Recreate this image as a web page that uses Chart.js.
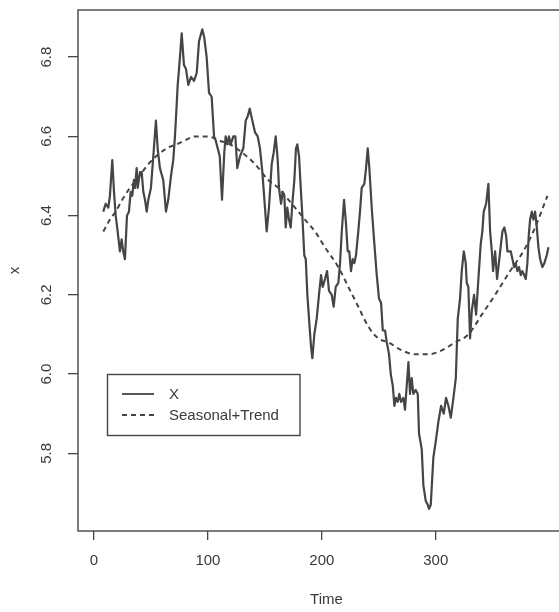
<!DOCTYPE html>
<html>
<head>
<meta charset="utf-8">
<script src="https://cdn.jsdelivr.net/npm/chart.js@4.4.0/dist/chart.umd.min.js"></script>
<style>
  html, body { margin: 0; padding: 0; background: #fff; overflow: hidden; }
  #wrap { width: 575px; height: 612px; }
</style>
</head>
<body>
<div id="wrap"><canvas id="mychart" width="575" height="612"></canvas></div>
<script>
// --- data ---
const xTime = [8.2, 10.3, 12.6, 14.0, 16.1, 17.6, 19.1, 20.8, 22.8, 24.3, 25.7, 27.2, 29.0, 30.7, 32.2, 33.6, 35.1, 36.0, 37.5, 38.4,
  40.4, 41.9, 43.3, 44.8, 46.3, 47.7, 50.0, 52.1, 54.4, 55.9, 57.9, 60.8, 63.2, 65.2, 67.6, 69.6, 71.1, 72.6, 73.5, 75.5,
  77.0, 79.0, 80.8, 82.8, 85.2, 87.8, 90.2, 92.2, 95.1, 96.8, 98.9, 101.0, 103.3, 105.4, 106.8, 108.6, 110.4, 112.4, 114.4, 115.6,
  117.0, 118.5, 120.0, 122.3, 124.1, 125.8, 128.2, 131.1, 133.2, 134.9, 136.7, 139.0, 141.4, 143.7, 145.7, 147.8, 150.1, 151.6, 153.6, 156.0,
  157.8, 159.5, 161.3, 162.4, 164.2, 165.7, 167.1, 168.3, 169.7, 171.2, 172.7, 174.1, 175.9, 177.3, 178.5, 180.0, 181.5, 182.9, 184.6, 185.9,
  187.3, 189.0, 190.5, 191.7, 193.4, 195.5, 197.5, 199.3, 200.8, 202.8, 204.6, 206.3, 208.7, 210.4, 212.2, 214.5, 216.0, 217.5, 219.5, 221.2,
  222.7, 224.1, 225.6, 227.1, 228.5, 230.0, 232.0, 233.5, 235.0, 237.3, 238.8, 240.3, 241.7, 243.8, 245.8, 248.2, 250.2, 252.0, 253.5, 255.5,
  257.0, 259.0, 260.5, 262.3, 263.7, 265.1, 266.6, 268.0, 269.5, 271.6, 273.0, 274.5, 276.0, 277.4, 278.9, 280.3, 282.4, 284.2, 285.3, 287.7,
  289.1, 291.2, 293.0, 294.1, 295.6, 297.9, 300.0, 302.3, 304.7, 307.0, 309.0, 311.1, 313.2, 315.5, 317.6, 319.3, 321.3, 322.8, 324.6, 326.3,
  327.2, 328.6, 330.1, 331.6, 333.6, 335.4, 337.4, 339.5, 340.9, 342.1, 344.2, 346.2, 347.7, 349.2, 350.3, 352.1, 353.8, 355.0, 356.5, 358.5,
  360.2, 361.7, 362.9, 364.4, 365.8, 367.3, 368.7, 370.2, 371.6, 373.1, 374.6, 376.0, 377.5, 379.0, 380.4, 381.6, 382.8, 384.3, 385.7, 387.2,
  388.7, 390.1, 391.6, 393.6, 395.3, 397.4, 398.9];
const xValues = [6.41, 6.43, 6.42, 6.45, 6.54, 6.46, 6.40, 6.36, 6.31, 6.34, 6.31, 6.29, 6.40, 6.41, 6.46, 6.45, 6.49, 6.47, 6.52, 6.47,
  6.51, 6.51, 6.46, 6.44, 6.41, 6.44, 6.47, 6.55, 6.64, 6.57, 6.52, 6.49, 6.41, 6.44, 6.50, 6.54, 6.60, 6.68, 6.73, 6.80,
  6.86, 6.78, 6.77, 6.73, 6.75, 6.74, 6.76, 6.84, 6.87, 6.85, 6.80, 6.71, 6.70, 6.60, 6.59, 6.57, 6.55, 6.44, 6.56, 6.60,
  6.58, 6.60, 6.58, 6.60, 6.60, 6.52, 6.55, 6.57, 6.64, 6.65, 6.67, 6.64, 6.61, 6.60, 6.57, 6.51, 6.42, 6.36, 6.42, 6.53,
  6.56, 6.60, 6.54, 6.47, 6.43, 6.46, 6.45, 6.37, 6.42, 6.39, 6.37, 6.43, 6.49, 6.57, 6.58, 6.55, 6.47, 6.40, 6.30, 6.29,
  6.20, 6.13, 6.07, 6.04, 6.10, 6.14, 6.20, 6.25, 6.22, 6.24, 6.26, 6.21, 6.20, 6.17, 6.22, 6.23, 6.28, 6.36, 6.44, 6.38,
  6.31, 6.31, 6.26, 6.29, 6.28, 6.30, 6.36, 6.41, 6.47, 6.48, 6.52, 6.57, 6.52, 6.42, 6.34, 6.25, 6.19, 6.18, 6.11, 6.11,
  6.08, 6.05, 6.00, 5.97, 5.92, 5.94, 5.93, 5.95, 5.93, 5.94, 5.91, 5.97, 6.03, 5.95, 5.99, 5.95, 5.96, 5.95, 5.85, 5.81,
  5.72, 5.68, 5.67, 5.66, 5.67, 5.79, 5.83, 5.88, 5.92, 5.90, 5.94, 5.92, 5.89, 5.94, 5.99, 6.14, 6.19, 6.26, 6.31, 6.28,
  6.23, 6.22, 6.09, 6.16, 6.20, 6.15, 6.24, 6.33, 6.36, 6.41, 6.43, 6.48, 6.36, 6.31, 6.26, 6.31, 6.24, 6.27, 6.31, 6.36,
  6.37, 6.35, 6.31, 6.31, 6.31, 6.29, 6.27, 6.28, 6.26, 6.27, 6.25, 6.26, 6.25, 6.24, 6.28, 6.35, 6.39, 6.41, 6.39, 6.41,
  6.37, 6.32, 6.29, 6.27, 6.28, 6.30, 6.32];

const trendTime = [8.2, 14.0, 19.1, 24.8, 31.6, 40.0, 47.7, 63.8, 72.6, 79.9, 88.7, 100.4, 109.1, 119.4, 129.7, 141.4, 153.0, 161.8, 173.6, 185.2,
  194.0, 202.8, 214.5, 223.3, 232.0, 240.8, 249.6, 258.4, 270.1, 281.8, 293.5, 305.3, 316.9, 328.6, 340.4, 352.1, 365.2, 376.9, 385.7, 398.0];
const trendValues = [6.36, 6.39, 6.41, 6.44, 6.47, 6.50, 6.53, 6.57, 6.58, 6.59, 6.60, 6.60, 6.59, 6.58, 6.56, 6.53, 6.49, 6.47, 6.43, 6.39,
  6.36, 6.32, 6.27, 6.22, 6.17, 6.12, 6.09, 6.08, 6.06, 6.05, 6.05, 6.06, 6.08, 6.10, 6.15, 6.20, 6.26, 6.31, 6.36, 6.45];

const xTicks = [0, 100, 200, 300];
const yTicks = [5.8, 6.0, 6.2, 6.4, 6.6, 6.8];
const legendLabels = ["X", "Seasonal+Trend"];

const ink = "#454545";
const textInk = "#3a3a3a";
const fontFamily = "'Liberation Sans', Arial, Helvetica, sans-serif";

// box round the plot, like R's bty="o"
const framePlugin = {
  id: "frame",
  afterDatasetsDraw(chart) {
    const a = chart.chartArea;
    const ctx = chart.ctx;
    ctx.save();
    ctx.strokeStyle = ink;
    ctx.lineWidth = 1.4;
    ctx.strokeRect(a.left, a.top, a.right - a.left + 10, a.bottom - a.top);
    ctx.restore();
  }
};

// y tick labels are turned on their side, as R does
const yLabelPlugin = {
  id: "ylabels",
  afterDraw(chart) {
    const y = chart.scales.y;
    const ctx = chart.ctx;
    ctx.save();
    ctx.fillStyle = textInk;
    ctx.font = "15px " + fontFamily;
    ctx.textAlign = "center";
    ctx.textBaseline = "middle";
    yTicks.forEach(v => {
      ctx.save();
      ctx.translate(47, y.getPixelForValue(v));
      ctx.rotate(-Math.PI / 2);
      ctx.fillText(v.toFixed(1), 0, 0);
      ctx.restore();
    });
    ctx.restore();
  }
};

// boxed legend in the lower left
const legendPlugin = {
  id: "boxlegend",
  afterDraw(chart) {
    const ctx = chart.ctx;
    ctx.save();
    ctx.strokeStyle = ink;
    ctx.lineWidth = 1.4;
    ctx.strokeRect(107.5, 374.5, 192.5, 61);
    const rows = [394, 415];
    chart.data.datasets.forEach((ds, i) => {
      ctx.beginPath();
      ctx.setLineDash(ds.borderDash || []);
      ctx.lineWidth = 1.8;
      ctx.strokeStyle = ds.borderColor;
      ctx.moveTo(122, rows[i]);
      ctx.lineTo(154, rows[i]);
      ctx.stroke();
      ctx.setLineDash([]);
      ctx.fillStyle = textInk;
      ctx.font = "15px " + fontFamily;
      ctx.textBaseline = "middle";
      ctx.fillText(legendLabels[i], 169, rows[i] + 1);
    });
    ctx.restore();
  }
};

const chart = document.getElementById("mychart").getContext("2d");
const myChart = new Chart(chart, {
  type: "line",
  data: {
    datasets: [{
      label: legendLabels[0],
      data: xTime.map((t, i) => ({ x: t, y: xValues[i] })),
      borderColor: ink,
      borderWidth: 2.2,
      pointRadius: 0,
      tension: 0,
      borderJoinStyle: "round"
    },
    {
      label: legendLabels[1],
      data: trendTime.map((t, i) => ({ x: t, y: trendValues[i] })),
      borderColor: ink,
      borderWidth: 2,
      borderDash: [5, 4],
      pointRadius: 0,
      cubicInterpolationMode: "monotone"
    }]
  },
  options: {
    responsive: false,
    animation: false,
    devicePixelRatio: 1,
    layout: { padding: { top: 10, right: 0, bottom: 0, left: 0 } },
    plugins: {
      legend: { display: false },
      tooltip: { enabled: false }
    },
    scales: {
      x: {
        type: "linear",
        min: -14,
        max: 422.2,
        afterBuildTicks: s => { s.ticks = xTicks.map(v => ({ value: v })); },
        afterFit: s => { s.height = 81; },
        grid: { drawOnChartArea: false, drawTicks: true, tickLength: 9, color: ink, lineWidth: 1.3 },
        border: { display: false },
        ticks: {
          color: textInk,
          font: { family: fontFamily, size: 15 },
          padding: 12,
          maxRotation: 0,
          callback: v => String(v)
        },
        title: {
          display: true,
          text: "Time",
          color: textInk,
          font: { family: fontFamily, size: 15 },
          padding: { top: 0, bottom: 3 }
        }
      },
      y: {
        type: "linear",
        min: 5.604,
        max: 6.919,
        afterBuildTicks: s => { s.ticks = yTicks.map(v => ({ value: v })); },
        afterFit: s => { s.width = 78; },
        grid: { drawOnChartArea: false, drawTicks: true, tickLength: 10, color: ink, lineWidth: 1.3 },
        border: { display: false },
        ticks: { display: false },
        title: {
          display: true,
          text: "x",
          color: textInk,
          font: { family: fontFamily, size: 15 },
          padding: { top: 6, bottom: 0 }
        }
      }
    }
  },
  plugins: [framePlugin, yLabelPlugin, legendPlugin]
});
</script>
</body>
</html>
